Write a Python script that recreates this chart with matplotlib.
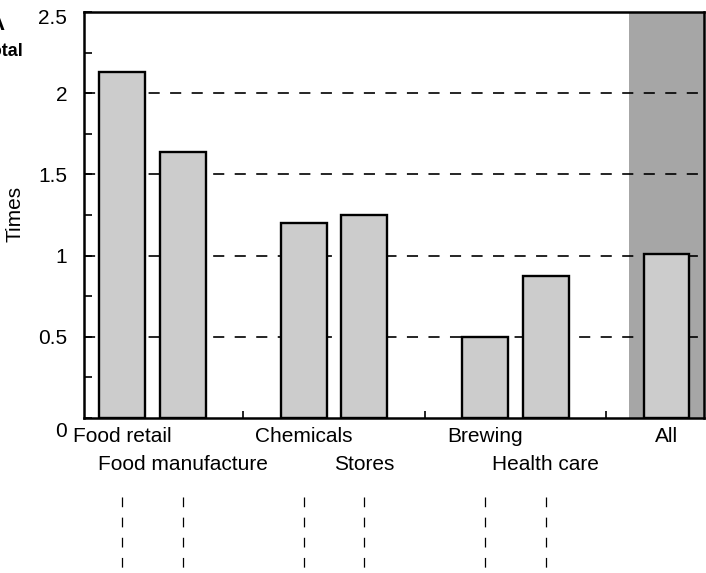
import matplotlib.pyplot as plt
from matplotlib.ticker import MultipleLocator
from matplotlib.transforms import ScaledTranslation

plt.rcParams['font.family'] = ['Liberation Sans', 'DejaVu Sans']
plt.rcParams['lines.scale_dashes'] = False

# sectors, top row / bottom row labels alternate
sectors = ['Food retail', 'Food manufacture', 'Chemicals', 'Stores',
           'Brewing', 'Health care', 'All']
positions = [0, 1, 3, 4, 6, 7, 9]
label_row = [0, 1, 0, 1, 0, 1, 0]
values = [2.13, 1.64, 1.20, 1.25, 0.50, 0.875, 1.01]
gridlines = [0.5, 1, 1.5, 2]
yticks = [0, 0.5, 1, 1.5, 2, 2.5]
ytick_labels = ['0', '0.5', '1', '1.5', '2', '2.5']

fig = plt.figure(figsize=(7.06, 5.73), dpi=100)
ax = fig.add_axes([84 / 706, 155 / 573, 620 / 706, 406 / 573])

# shaded band behind the "All" bar
ax.axvspan(8.38, 9.62, color='#a6a6a6', zorder=0.5, lw=0)

for g in gridlines:
    ax.axhline(g, color='black', lw=1.2, dashes=(8, 7.5), zorder=1)

ax.bar(positions, values, width=0.76, color='#cccccc', edgecolor='black',
       linewidth=1.7, zorder=2)

ax.set_xlim(-0.63, 9.62)
ax.set_ylim(0, 2.5)

ax.set_yticks(yticks)
ax.set_yticklabels(ytick_labels)
ax.yaxis.set_minor_locator(MultipleLocator(0.25))
ax.tick_params(axis='y', which='both', direction='in', length=6, width=1.2,
               labelsize=15, pad=12)
lbl0 = ax.get_yticklabels()[0]
lbl0.set_transform(lbl0.get_transform() + ScaledTranslation(0, -8 / 72, fig.dpi_scale_trans))
lbl_top = ax.get_yticklabels()[-1]
lbl_top.set_transform(lbl_top.get_transform() + ScaledTranslation(0, -3 / 72, fig.dpi_scale_trans))

ax.set_xticks([])
ax.set_xticks(range(10), minor=True)
ax.tick_params(axis='x', which='minor', direction='in', length=5, width=1.2,
               labelbottom=False)

for sp in ax.spines.values():
    sp.set_linewidth(1.8)

fig.text(15 / 706, 1 - 214 / 573, 'Times', rotation=90, ha='center',
         va='center', fontsize=15)

# staggered category labels under the axis
xt = ax.get_xaxis_transform()
for name, p, row in zip(sectors, positions, label_row):
    ax.text(p, -19 / 406 - row * 28 / 406, name, transform=xt, ha='center',
            va='center', fontsize=15)

# dashed leader lines below the labels
ax.vlines([p for p in positions if p != 9], -79 / 406, -160 / 406,
          transform=xt, colors='black', lw=0.9, linestyles=[(0, (7, 7.5))],
          clip_on=False)

fig.text(5 / 706, 1 - 24 / 573, 'A', ha='right', va='center', fontsize=16,
         fontweight='bold')
fig.text(23 / 706, 1 - 52 / 573, 'Total', ha='right', va='center', fontsize=13,
         fontweight='bold')

fig.savefig('out.png', dpi=100)
